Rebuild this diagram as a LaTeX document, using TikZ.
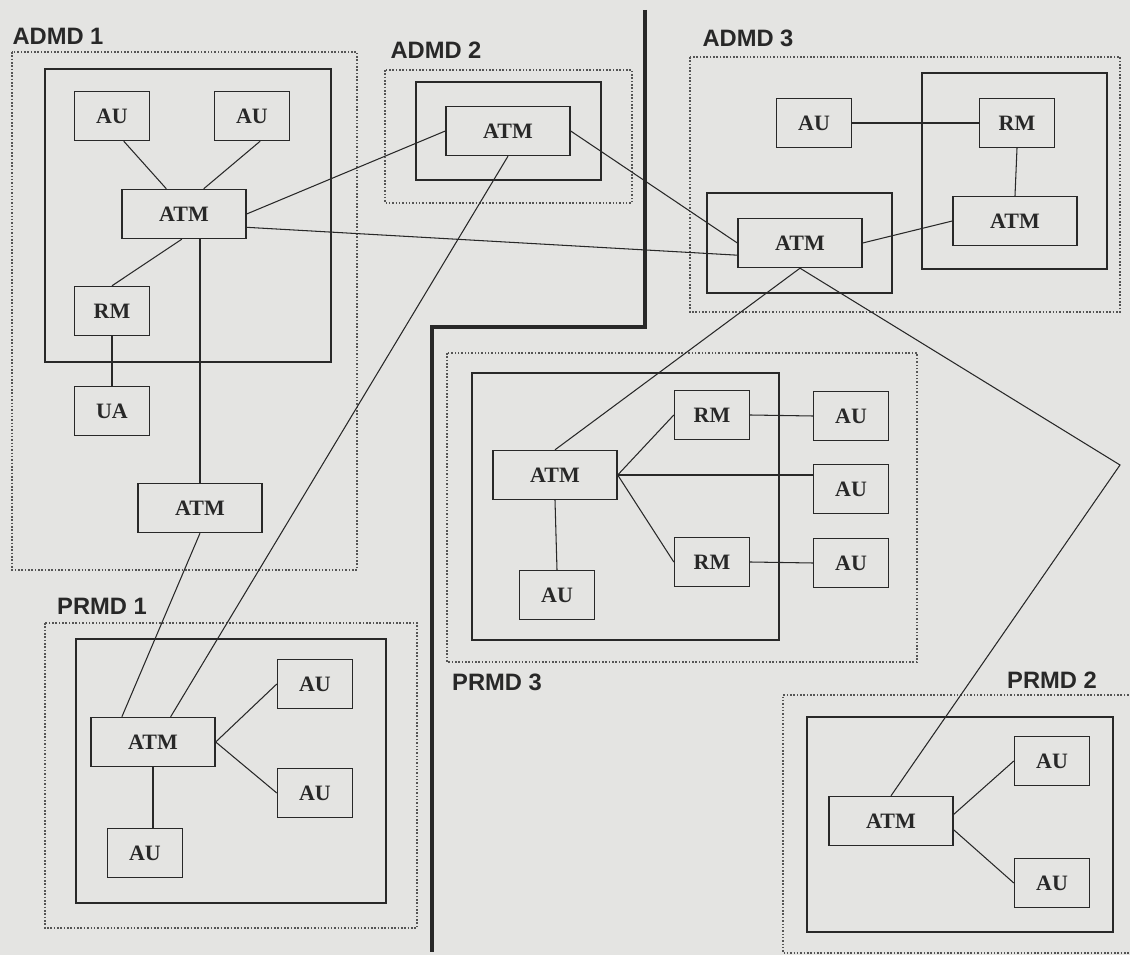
\documentclass[tikz,border=0pt]{standalone}
\usepackage{fontspec}
\setmainfont{Liberation Serif}
\newfontfamily\domfont{Liberation Sans}
\definecolor{ink}{RGB}{40,40,40}
\definecolor{dotgray}{RGB}{85,85,85}
\definecolor{paper}{RGB}{228,228,226}
\begin{document}
\begin{tikzpicture}[x=0.02cm, y=-0.02cm,
ubox/.style={draw=ink, line width=0.8pt, minimum width=1.5cm, minimum height=0.98cm, inner sep=0pt, text=ink, font=\fontsize{12.5}{14}\selectfont\bfseries},
atm/.style={ubox, minimum width=2.48cm},
outline/.style={draw=ink, line width=0.8pt},
mdbox/.style={draw=dotgray, line width=0.9pt, densely dotted},
mdlabel/.style={text=ink, font=\domfont\fontsize{13.5}{15}\selectfont\bfseries},
wire/.style={draw=ink, line width=0.6pt},
divider/.style={draw=ink, line width=1.8pt}
]
\useasboundingbox[fill=paper] (0,0) rectangle (1130,955);
% domaines
\draw[mdbox] (12,52) rectangle (357,570);
\draw[mdbox] (385,70) rectangle (632,203);
\draw[mdbox] (690,57) rectangle (1120,312);
\draw[mdbox] (447,353) rectangle (917,662);
\draw[mdbox] (45,623) rectangle (417,928);
\draw[mdbox] (1132,695) -- (783,695) -- (783,953) -- (1132,953);
\node[mdlabel] (admd1) at (58,36) {ADMD 1};
\node[mdlabel] (admd2) at (436,50) {ADMD 2};
\node[mdlabel] (admd3) at (748,38) {ADMD 3};
\node[mdlabel] (prmd1) at (102,606) {PRMD 1};
\node[mdlabel] (prmd3) at (497,682) {PRMD 3};
\node[mdlabel] (prmd2) at (1052,680) {PRMD 2};
% systemes
\draw[outline] (45,69) rectangle (331,362);
\draw[outline] (416,82) rectangle (601,180);
\draw[outline] (707,193) rectangle (892,293);
\draw[outline] (922,73) rectangle (1107,269);
\draw[outline] (472,373) rectangle (779,640);
\draw[outline] (76,639) rectangle (386,903);
\draw[outline] (807,717) rectangle (1113,932);
\draw[divider] (645,10) -- (645,327) -- (432,327) -- (432,952);
% ADMD 1
\node[ubox] (auA1) at (112,116) {AU};
\node[ubox] (auA2) at (252,116) {AU};
\node[atm] (atmA) at (184,214) {ATM};
\node[ubox] (rmA) at (112,311) {RM};
\node[ubox] (uaA) at (112,411) {UA};
\node[atm] (atmB) at (200,508) {ATM};
% ADMD 2
\node[atm] (atmC) at (508,131) {ATM};
% ADMD 3
\node[atm] (atmD) at (800,243) {ATM};
\node[ubox] (auD) at (814,123) {AU};
\node[ubox] (rmD) at (1017,123) {RM};
\node[atm] (atmE) at (1015,221) {ATM};
% PRMD 3
\node[atm] (atmF) at (555,475) {ATM};
\node[ubox] (rmF1) at (712,415) {RM};
\node[ubox] (rmF2) at (712,562) {RM};
\foreach \n/\y in {1/416,2/489,3/563} \node[ubox] (auF\n) at (851,\y) {AU};
\node[ubox] (auF4) at (557,595) {AU};
% PRMD 1
\node[atm] (atmH) at (153,742) {ATM};
\node[ubox] (auH1) at (315,684) {AU};
\node[ubox] (auH2) at (315,793) {AU};
\node[ubox] (auH3) at (145,853) {AU};
% PRMD 2
\node[atm] (atmG) at (891,821) {ATM};
\node[ubox] (auG1) at (1052,761) {AU};
\node[ubox] (auG2) at (1052,883) {AU};
\coordinate (bend) at (1120,465);
% liaisons
\draw[wire] (auA1.-65) -- (atmA.125);
\draw[wire] (auA2.-72) -- (atmA.52);
\draw[wire] (rmA.north) -- (atmA.-95);
\draw[wire] (rmA.south) -- (uaA.north);
\draw[wire] (atmB.north |- atmA.south) -- (atmB.north);
\draw[wire] (atmA.east) -- (atmC.west);
\draw[wire] (atmA.-12) -- (atmD.191);
\draw[wire] (atmC.east) -- (atmD.west);
\draw[wire] (atmC.south) -- (atmH.55);
\draw[wire] (atmB.south) -- (atmH.141);
\draw[wire] (auD.east) -- (rmD.west);
\draw[wire] (rmD.south) -- (atmE.north);
\draw[wire] (atmD.east) -- (atmE.west);
\draw[wire] (atmD.south) -- (atmF.north);
\draw[wire] (atmD.south) -- (bend) -- (atmG.north);
\foreach \m in {rmF1,rmF2} \draw[wire] (atmF.east) -- (\m.west);
\draw[wire] (atmF.east) -- (atmF.east -| auF2.west);
\draw[wire] (rmF1.east) -- (auF1.west);
\draw[wire] (rmF2.east) -- (auF3.west);
\draw[wire] (atmF.south) -- (auF4.north);
\foreach \m in {auH1,auH2} \draw[wire] (atmH.east) -- (\m.west);
\draw[wire] (atmH.south) -- (atmH.south |- auH3.north);
\draw[wire] (atmG.6) -- (auG1.west);
\draw[wire] (atmG.-8) -- (auG2.west);
\end{tikzpicture}
\end{document}
